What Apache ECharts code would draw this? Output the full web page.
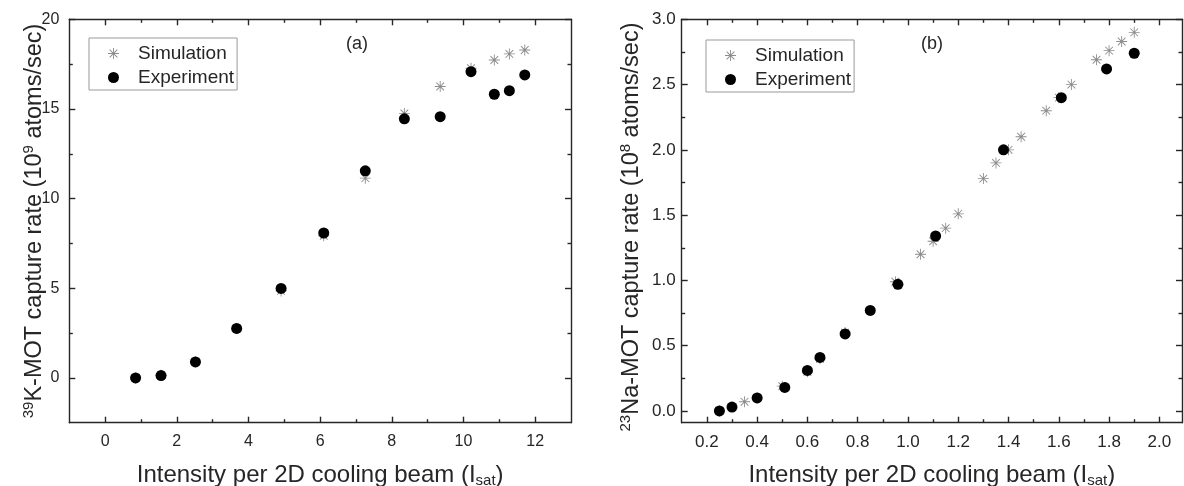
<!DOCTYPE html>
<html><head><meta charset="utf-8">
<script src="https://cdn.jsdelivr.net/npm/echarts@6/dist/echarts.min.js"></script>
<style>html,body{margin:0;padding:0;background:#fff}#c{width:1184px;height:486px}</style>
</head><body><div id="c"></div>
<script>
// ---- data ----
const kIntensity   = [0.85, 1.56, 2.52, 3.67, 4.91, 6.10, 7.26, 8.35, 9.35, 10.21, 10.86, 11.28, 11.71];
const kSimulation  = [0.00, 0.15, 0.90, 2.75, 4.85, 7.93, 11.14, 14.75, 16.25, 17.27, 17.73, 18.07, 18.29];
const kExperiment  = [0.00, 0.13, 0.89, 2.76, 4.99, 8.08, 11.55, 14.45, 14.57, 17.08, 15.82, 16.02, 16.90];

const naSimIntensity = [0.25, 0.35, 0.40, 0.50, 0.60, 0.65, 0.75, 0.95, 1.05, 1.10, 1.15, 1.20, 1.30, 1.35, 1.40, 1.45, 1.55, 1.60, 1.65, 1.75, 1.80, 1.85, 1.90];
const naSimulation   = [0.00, 0.07, 0.10, 0.19, 0.30, 0.40, 0.60, 0.99, 1.20, 1.30, 1.40, 1.51, 1.78, 1.90, 2.00, 2.10, 2.30, 2.40, 2.50, 2.69, 2.76, 2.83, 2.90];
const naExpIntensity = [0.25, 0.30, 0.40, 0.51, 0.60, 0.65, 0.75, 0.85, 0.96, 1.11, 1.38, 1.61, 1.79, 1.90];
const naExperiment   = [0.00, 0.03, 0.10, 0.18, 0.31, 0.41, 0.59, 0.77, 0.97, 1.34, 2.00, 2.40, 2.62, 2.74];

const kXTicks  = [0, 2, 4, 6, 8, 10, 12];
const kXMinor  = [1, 3, 5, 7, 9, 11];
const kYTicks  = [0, 5, 10, 15, 20];
const kYMinor  = [2.5, 7.5, 12.5, 17.5];
const naXTicks = [0.2, 0.4, 0.6, 0.8, 1.0, 1.2, 1.4, 1.6, 1.8, 2.0];
const naXMinor = [0.3, 0.5, 0.7, 0.9, 1.1, 1.3, 1.5, 1.7, 1.9];
const naYTicks = [0, 0.5, 1.0, 1.5, 2.0, 2.5, 3.0];
const naYMinor = [0.25, 0.75, 1.25, 1.75, 2.25, 2.75];

const seriesNames = ['Simulation', 'Experiment'];
const xTitle = 'Intensity per 2D cooling beam (I{sub|sat})';
const kYTitle = '{sup|39}K-MOT capture rate (10{sup|9} atoms/sec)';
const naYTitle = '{sup|23}Na-MOT capture rate (10{sup|8} atoms/sec)';

// ---- styling ----
const FONT = '"Liberation Sans", Arial, Helvetica, sans-serif';
const INK = '#262626';
const AXIS_LINE = { show: true, onZero: false, lineStyle: { color: INK, width: 1.4 } };
const STAR = 'path://M46 0H54V100H46Z M0 46H100V54H0Z M18 12L88 82L82 88L12 18Z M82 12L88 18L18 88L12 82Z';

const richTitle = (size, padding) => ({
  fontFamily: FONT, fontSize: size, color: INK, lineHeight: 26, padding: padding || 0,
  rich: {
    sup: { fontFamily: FONT, fontSize: 15, lineHeight: 15, verticalAlign: 'top', color: INK },
    sub: { fontFamily: FONT, fontSize: 15, lineHeight: 10, verticalAlign: 'bottom', color: INK }
  }
});

function majorAxis(gridIndex, position, min, max, ticks, opts) {
  const withLabel = opts.label;
  const a = {
    type: 'value', gridIndex, position, min, max,
    axisLine: AXIS_LINE,
    splitLine: { show: false },
    axisTick: { show: true, inside: true, length: 6, customValues: ticks, lineStyle: { color: INK, width: 1.4 } },
    axisLabel: withLabel ? {
      show: true, customValues: ticks, margin: opts.margin, fontFamily: FONT, fontSize: opts.fontSize, color: INK,
      formatter: opts.fmt
    } : { show: false }
  };
  if (opts.name) {
    a.name = opts.name;
    a.nameLocation = 'middle';
    a.nameGap = opts.nameGap;
    a.nameTextStyle = richTitle(opts.nameSize, opts.namePad);
    a.nameMoveOverlap = false;
  }
  return a;
}
function minorAxis(gridIndex, position, min, max, ticks) {
  return {
    type: 'value', gridIndex, position, min, max,
    axisLine: { show: false, onZero: false },
    splitLine: { show: false },
    axisTick: { show: true, inside: true, length: 3.5, customValues: ticks, lineStyle: { color: INK, width: 1.4 } },
    axisLabel: { show: false }
  };
}

const kX = [-1, 13], kY = [-2.5, 20];
const naX = [0.1, 2.09], naY = [-0.09, 3.0];
const intFmt = v => String(Math.round(v));
const oneFmt = v => v.toFixed(1);

const gridL = { left: 69.3, top: 19.3, width: 501.7, height: 403.4 };
const gridR = { left: 681.7, top: 19.3, width: 500.3, height: 403.4 };
const mkGrid = g => Object.assign({ containLabel: false, outerBoundsMode: 'none' }, g);

const legendBase = {
  orient: 'vertical', data: seriesNames, padding: [6, 3, 3, 19], itemGap: 5,
  itemWidth: 39, itemHeight: 11, borderColor: '#999', borderWidth: 1, selectedMode: false,
  textStyle: { fontFamily: FONT, fontSize: 19, color: INK }
};

const option = {
  animation: false,
  backgroundColor: '#fff',
  textStyle: { fontFamily: FONT },
  title: [
    { text: '(a)', left: 346, top: 35, padding: 0, textStyle: { fontFamily: FONT, fontSize: 18, fontWeight: 'normal', color: INK } },
    { text: '(b)', left: 921, top: 35, padding: 0, textStyle: { fontFamily: FONT, fontSize: 18, fontWeight: 'normal', color: INK } }
  ],
  legend: [
    Object.assign({ left: 89, top: 38 }, legendBase),
    Object.assign({ left: 706, top: 40 }, legendBase)
  ],
  grid: [mkGrid(gridL), mkGrid(gridL), mkGrid(gridR), mkGrid(gridR)],
  xAxis: [
    majorAxis(0, 'bottom', kX[0], kX[1], kXTicks, { label: true, margin: 11, fontSize: 16, fmt: intFmt, name: xTitle, nameGap: 40, nameSize: 24 }),
    majorAxis(0, 'top', kX[0], kX[1], kXTicks, { label: false }),
    minorAxis(1, 'bottom', kX[0], kX[1], kXMinor),
    minorAxis(1, 'top', kX[0], kX[1], kXMinor),
    majorAxis(2, 'bottom', naX[0], naX[1], naXTicks, { label: true, margin: 11, fontSize: 17, fmt: oneFmt, name: xTitle, nameGap: 40, nameSize: 24 }),
    majorAxis(2, 'top', naX[0], naX[1], naXTicks, { label: false }),
    minorAxis(3, 'bottom', naX[0], naX[1], naXMinor),
    minorAxis(3, 'top', naX[0], naX[1], naXMinor)
  ],
  yAxis: [
    majorAxis(0, 'left', kY[0], kY[1], kYTicks, { label: true, margin: 10, fontSize: 16, fmt: intFmt, name: kYTitle, nameGap: 22, nameSize: 23.5 }),
    majorAxis(0, 'right', kY[0], kY[1], kYTicks, { label: false }),
    minorAxis(1, 'left', kY[0], kY[1], kYMinor),
    minorAxis(1, 'right', kY[0], kY[1], kYMinor),
    majorAxis(2, 'left', naY[0], naY[1], naYTicks, { label: true, margin: 6, fontSize: 17, fmt: oneFmt, name: naYTitle, nameGap: 37, nameSize: 23.5, namePad: [0, 12, 0, 0] }),
    majorAxis(2, 'right', naY[0], naY[1], naYTicks, { label: false }),
    minorAxis(3, 'left', naY[0], naY[1], naYMinor),
    minorAxis(3, 'right', naY[0], naY[1], naYMinor)
  ],
  series: [
    { name: 'Simulation', type: 'scatter', xAxisIndex: 0, yAxisIndex: 0, symbol: STAR, symbolSize: 11,
      itemStyle: { color: '#707070' }, data: kIntensity.map((x, i) => [x, kSimulation[i]]) },
    { name: 'Experiment', type: 'scatter', xAxisIndex: 0, yAxisIndex: 0, symbol: 'circle', symbolSize: 11,
      itemStyle: { color: '#000', opacity: 1 }, data: kIntensity.map((x, i) => [x, kExperiment[i]]) },
    { name: 'Simulation', type: 'scatter', xAxisIndex: 4, yAxisIndex: 4, symbol: STAR, symbolSize: 11,
      itemStyle: { color: '#707070' }, data: naSimIntensity.map((x, i) => [x, naSimulation[i]]) },
    { name: 'Experiment', type: 'scatter', xAxisIndex: 4, yAxisIndex: 4, symbol: 'circle', symbolSize: 11,
      itemStyle: { color: '#000', opacity: 1 }, data: naExpIntensity.map((x, i) => [x, naExperiment[i]]) }
  ]
};
const chart = echarts.init(document.getElementById('c'), null, { renderer: 'canvas' });
chart.setOption(option);
</script>
</body></html>
